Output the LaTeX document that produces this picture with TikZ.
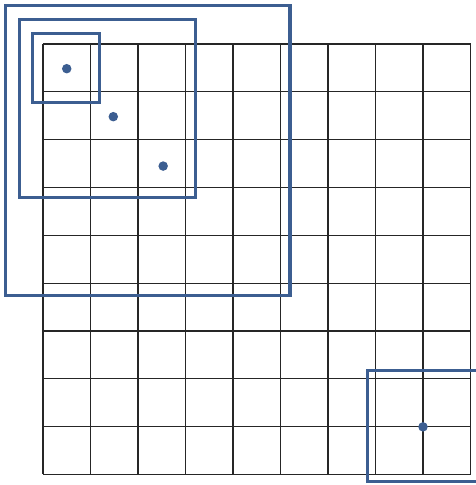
\documentclass[tikz,border=0pt]{standalone}
\usepackage{tikz}

\definecolor{boxblue}{RGB}{60,94,145}

\begin{document}
\begin{tikzpicture}[x=1cm, y=1cm,
    gridline/.style={black!85, line width=0.7pt},
    field/.style={boxblue, line width=1.8pt},
    unit/.style={boxblue, fill=boxblue}]
  \useasboundingbox (-0.905,0.926) rectangle (9.095,-9.284);
  % 9x9 grid
  \foreach \i in {0,...,9} {
    \draw[gridline] (\i,0) -- (\i,-9.06);
    \draw[gridline] (0,-1.007*\i) -- (9,-1.007*\i);
  }
  % nested fields
  \draw[field] (-0.78,0.80) rectangle (5.20,-5.30);
  \draw[field] (-0.50,0.52) rectangle (3.22,-3.24);
  \draw[field] (-0.23,0.23) rectangle (1.20,-1.24);
  \draw[field] (6.84,-6.88) rectangle (9.40,-9.22);
  % units
  \coordinate (u1) at (0.5,-0.52);
  \coordinate (u2) at (1.48,-1.53);
  \coordinate (u3) at (2.53,-2.57);
  \coordinate (u4) at (8,-8.06);
  \foreach \u in {u1,u2,u3,u4}
    \fill[unit] (\u) circle (0.1);
\end{tikzpicture}
\end{document}
